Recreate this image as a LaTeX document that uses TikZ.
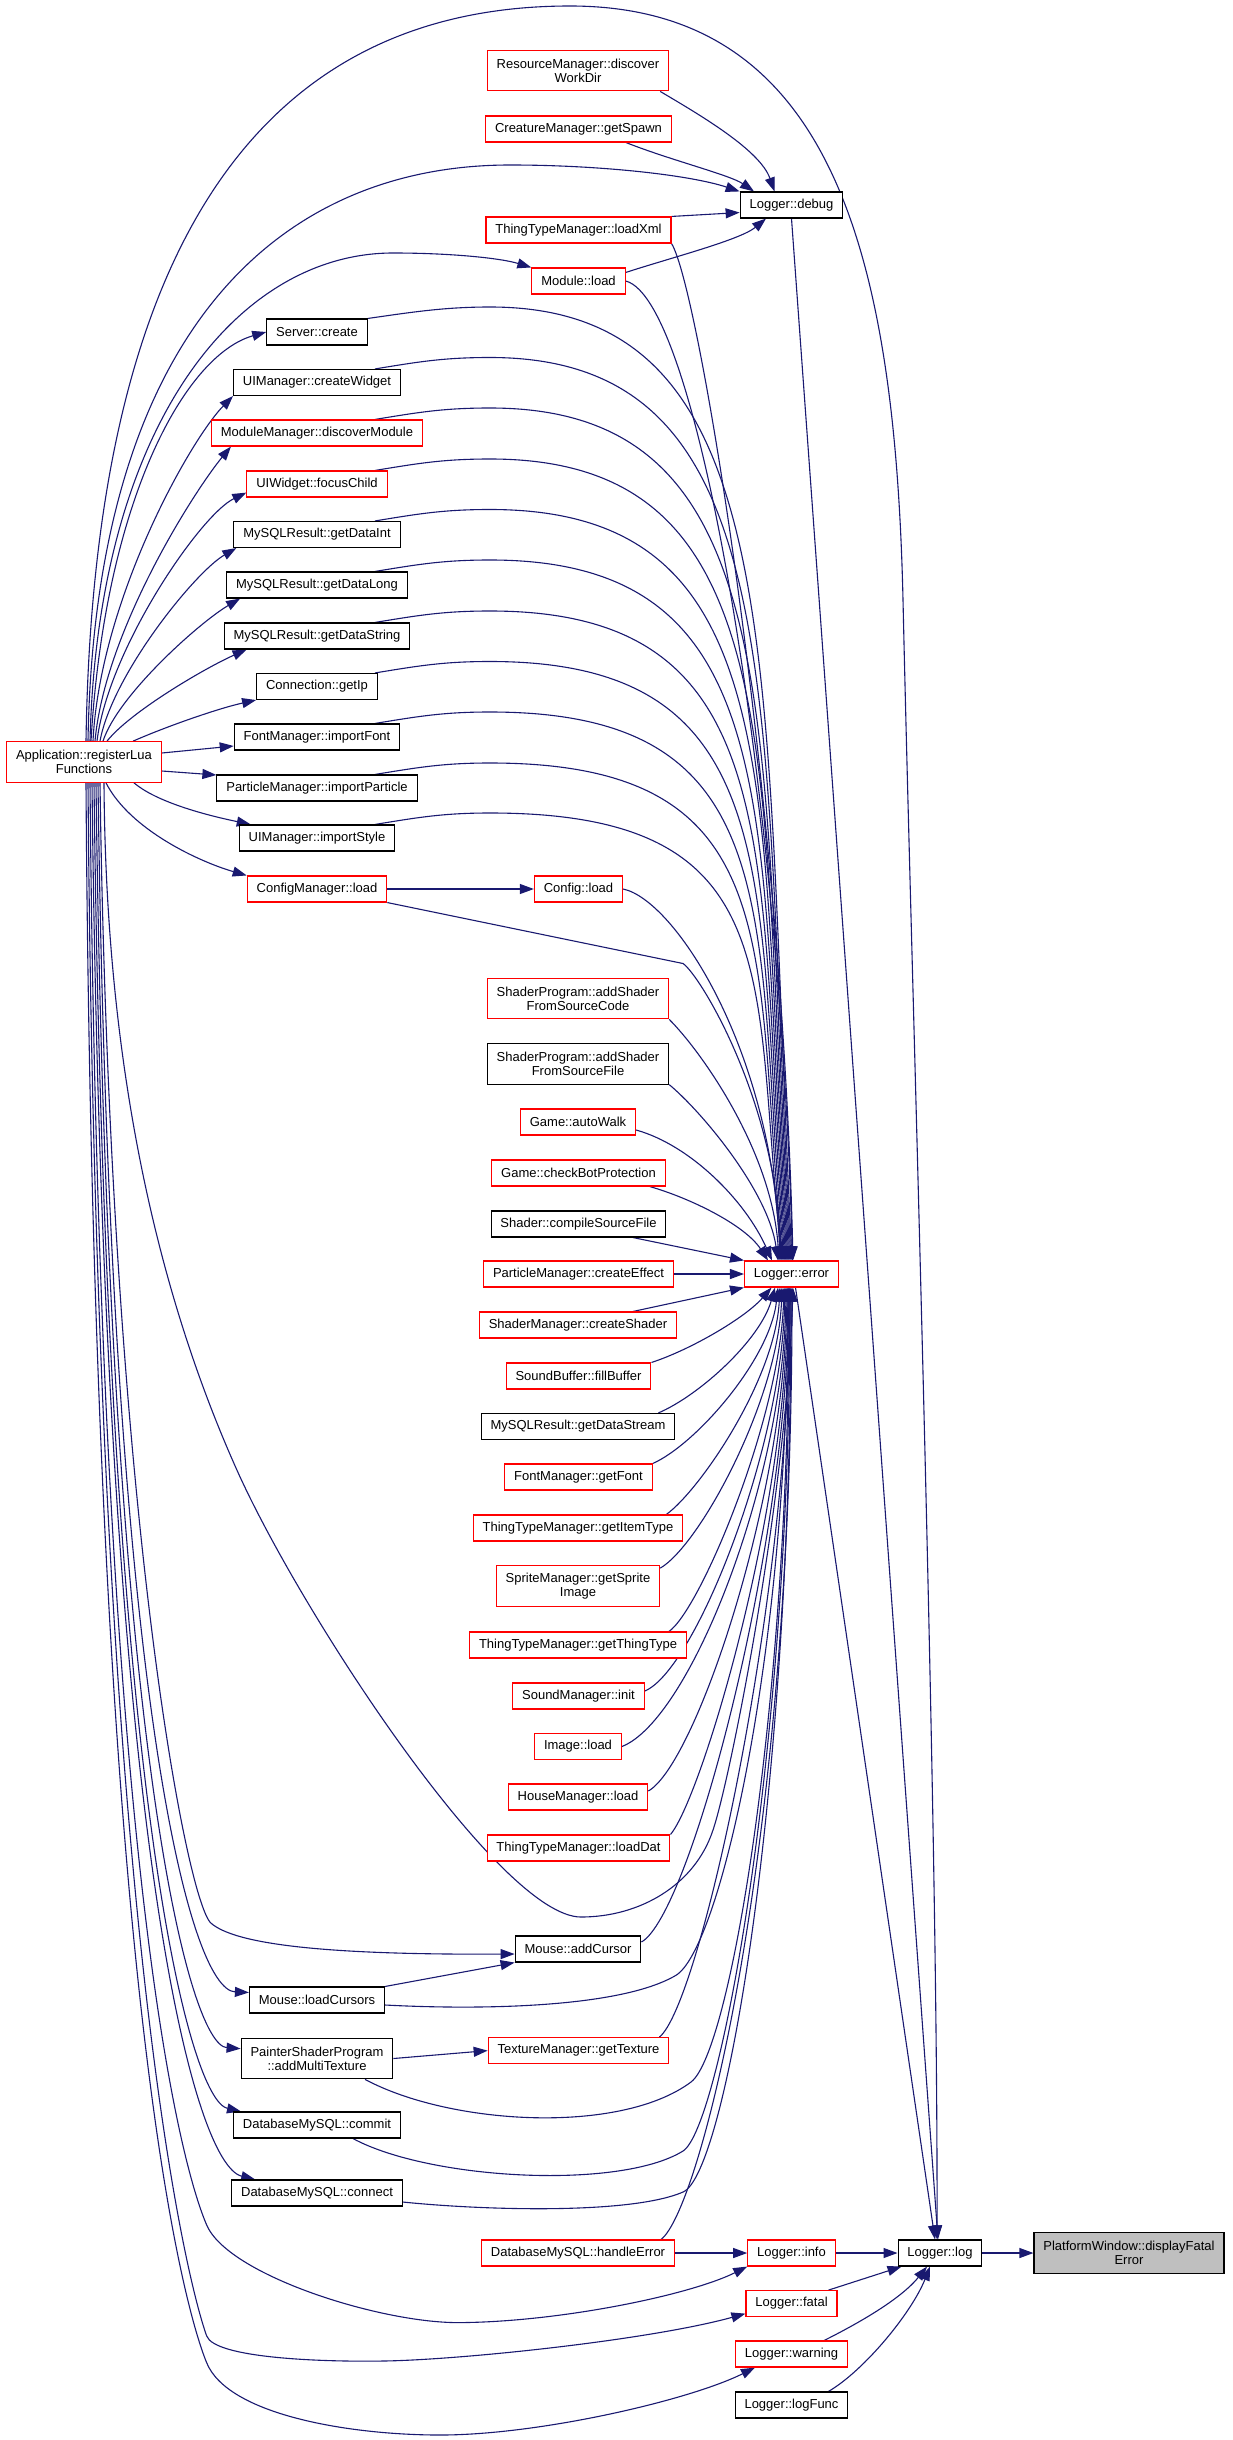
\documentclass[tikz,border=0pt]{standalone}
\usepackage{fontspec}
\setmainfont{Liberation Sans}
\usetikzlibrary{arrows.meta}
\definecolor{edgeblue}{RGB}{25,25,112}
\definecolor{boxred}{RGB}{255,0,0}
\definecolor{rootgray}{RGB}{191,191,191}
\pgfdeclarelayer{bg}
\pgfsetlayers{bg,main}
\tikzset{
  box/.style={draw=black, line width=0.55pt, fill=white, font=\fontsize{6.5pt}{7pt}\selectfont, align=center, inner xsep=4.7pt, inner ysep=0pt, minimum height=13pt},
  rbox/.style={box, draw=boxred},
  dbl/.style={minimum height=20.3pt},
  root/.style={box, fill=rootgray},
  e/.style={draw=edgeblue, line width=0.55pt, -{Triangle[length=7pt,width=5pt]}},
}
\begin{document}
\begin{tikzpicture}[x=0.5pt,y=-0.5pt]
\useasboundingbox (0,0) rectangle (1232,2440);
\coordinate (c375) at (375,0);
\coordinate (c633) at (633,0);
% ---------- nodes ----------
\node[rbox,dbl] (rm) at (578,70.6) {ResourceManager::discover\\WorkDir};
\node[rbox] (cms) at (578.5,129) {CreatureManager::getSpawn};
\node[box] (dbg) at (791.5,205) {Logger::debug};
\node[rbox] (lxml) at (578.5,230) {ThingTypeManager::loadXml};
\node[rbox] (mod) at (578.5,281) {Module::load};
\node[box] (srv) at (317,332) {Server::create};
\node[box] (cw) at (317,382.5) {UIManager::createWidget};
\node[rbox] (dm) at (317,433) {ModuleManager::discoverModule};
\node[rbox] (fc) at (317,484) {UIWidget::focusChild};
\node[box] (gdi) at (317,534.5) {MySQLResult::getDataInt};
\node[box] (gdl) at (317,585) {MySQLResult::getDataLong};
\node[box] (gds) at (317,636) {MySQLResult::getDataString};
\node[box] (gip) at (317,686.5) {Connection::getIp};
\node[box] (imf) at (317,737) {FontManager::importFont};
\node[rbox,dbl] (app) at (84,762) {Application::registerLua\\Functions};
\node[box] (imp) at (317,788) {ParticleManager::importParticle};
\node[box] (ims) at (317,838) {UIManager::importStyle};
\node[rbox] (cml) at (317,889) {ConfigManager::load};
\node[rbox] (cfl) at (578.5,889) {Config::load};
\node[rbox,dbl] (sfc) at (578,998.6) {ShaderProgram::addShader\\FromSourceCode};
\node[box,dbl] (sff) at (578,1063.8) {ShaderProgram::addShader\\FromSourceFile};
\node[rbox] (gaw) at (578,1122) {Game::autoWalk};
\node[rbox] (gcb) at (578.5,1173) {Game::checkBotProtection};
\node[box] (csf) at (578.5,1224) {Shader::compileSourceFile};
\node[rbox] (pce) at (578.5,1274) {ParticleManager::createEffect};
\node[rbox] (err) at (791.5,1274) {Logger::error};
\node[rbox] (scs) at (578,1325) {ShaderManager::createShader};
\node[rbox] (sfb) at (578.5,1376) {SoundBuffer::fillBuffer};
\node[box] (gds2) at (578,1426.5) {MySQLResult::getDataStream};
\node[rbox] (gf) at (578.5,1477) {FontManager::getFont};
\node[rbox] (git) at (578,1528) {ThingTypeManager::getItemType};
\node[rbox,dbl] (gsi) at (578,1586) {SpriteManager::getSprite\\Image};
\node[rbox] (gtt) at (578,1645) {ThingTypeManager::getThingType};
\node[rbox] (smi) at (578.5,1696) {SoundManager::init};
\node[rbox] (iml) at (578,1746.5) {Image::load};
\node[rbox] (hml) at (578,1797) {HouseManager::load};
\node[rbox] (ldat) at (578.5,1848) {ThingTypeManager::loadDat};
\node[box] (mac) at (578,1949) {Mouse::addCursor};
\node[box] (mlc) at (317,2000) {Mouse::loadCursors};
\node[box,dbl] (pam) at (317,2058.5) {PainterShaderProgram\\::addMultiTexture};
\node[rbox] (tgt) at (578.5,2050.6) {TextureManager::getTexture};
\node[box] (dbc) at (317,2125) {DatabaseMySQL::commit};
\node[box] (dbn) at (317,2193) {DatabaseMySQL::connect};
\node[rbox] (dbh) at (578,2253) {DatabaseMySQL::handleError};
\node[rbox] (inf) at (791.5,2253) {Logger::info};
\node[box] (lg) at (940,2253) {Logger::log};
\node[root,dbl] (pw) at (1129,2253) {PlatformWindow::displayFatal\\Error};
\node[rbox] (ftl) at (791.5,2303.6) {Logger::fatal};
\node[rbox] (wrn) at (791.5,2354) {Logger::warning};
\node[box] (lf) at (791.5,2405) {Logger::logFunc};
% ---------- edges ----------
\begin{pgfonlayer}{bg}
\fill[white] (0,0) rectangle (1232,2440);
% into Logger::log and PlatformWindow
\draw[e] (lg.east) -- (pw.west);
\draw[e] (inf.east) -- (lg.west);
\draw[e] (dbh.east) -- (inf.west);
\draw[e] ([xshift=-4.5pt]ftl.north east) -- ([xshift=2pt]lg.south west);
\draw[e] ([xshift=-12pt]wrn.north east) .. controls (855,2325) and (900,2300) .. ([xshift=-6.5pt]lg.south);
\draw[e] ([xshift=-10pt]lf.north east) .. controls (865,2370) and (912,2312) .. ([xshift=-5pt]lg.south);
\draw[e] (dbg.south) -- ([xshift=-1pt]lg.north);
\draw[e] ([xshift=2pt]err.south) -- ([xshift=-2.5pt]lg.north);
\draw[e] ([xshift=1pt]app.north) .. controls (95,150) and (330,6) .. (570,6) .. controls (830,6) and (895,250) .. (903,600) .. controls (912,1000) and (938,1800) .. ([xshift=-1.5pt]lg.north);
% into Logger::debug
\draw[e] ([xshift=2pt]app.north) .. controls (95,330) and (280,165) .. (510,165) .. controls (600,165) and (690,175) .. (dbg.north west);
\draw[e] ([xshift=-4.5pt]rm.south east) .. controls (700,115) and (760,150) .. ([xshift=-8.5pt]dbg.north);
\draw[e] ([xshift=23.75pt]cms.south) .. controls (670,160) and (730,175) .. ([xshift=-18.75pt]dbg.north);
\draw[e] (lxml.north east) -- ([yshift=3pt]dbg.south west);
\draw[e] ([yshift=4.25pt]mod.east) .. controls (670,258) and (740,240) .. ([xshift=-12.75pt]dbg.south);
% from Application to second column
\draw[e] ([xshift=3pt]app.north) .. controls (98,420) and (240,253) .. (393,253) .. controls (450,253) and (500,258) .. (mod.north west);
\draw[e] ([xshift=3.5pt]app.north) .. controls (105,500) and (185,355) .. (srv.west);
\draw[e] ([xshift=4.5pt]app.north) .. controls (100,600) and (190,440) .. (cw.south west);
\draw[e] ([xshift=5.5pt]app.north) .. controls (105,630) and (195,490) .. ([xshift=10pt]dm.south west);
\draw[e] ([xshift=6.5pt]app.north) .. controls (108,650) and (200,515) .. ([yshift=-4.3pt]fc.west);
\draw[e] ([xshift=8pt]app.north) .. controls (112,675) and (195,572) .. ([xshift=1.5pt]gdi.south west);
\draw[e] ([xshift=9.5pt]app.north) .. controls (118,695) and (200,622) .. ([xshift=7pt]gdl.south west);
\draw[e] ([xshift=11.5pt]app.north) .. controls (130,712) and (205,668) .. ([xshift=11.5pt]gds.south west);
\draw[e] ([xshift=24.5pt]app.north) .. controls (170,725) and (220,708) .. (gip.south west);
\draw[e] ([yshift=4.5pt]app.east) -- ([yshift=-4.5pt]imf.west);
\draw[e] ([yshift=-4.5pt]app.east) -- ([yshift=6.5pt]imp.west);
\draw[e] ([xshift=25pt]app.south) .. controls (160,805) and (220,818) .. ([xshift=6pt]ims.north west);
\draw[e] ([xshift=11pt]app.south) .. controls (130,830) and (200,862) .. (cml.north west);
\draw[e] (cml.east) -- (cfl.west);
% from Application downwards
\draw[e] ([xshift=8pt]app.south) .. controls (110,1500) and (185,1895) .. (210.5,1922.7) .. controls (235,1945) and (330,1955) .. ([yshift=-2.5pt]mac.west);
\draw[e] ([xshift=7pt]app.south) .. controls (110,1700) and (190,1990) .. ([yshift=-3pt]mlc.north west);
\draw[e] ([xshift=6pt]app.south) .. controls (108,1760) and (190,2045) .. ([yshift=-5.5pt]pam.north west);
\draw[e] ([xshift=5pt]app.south) .. controls (106,1810) and (190,2100) .. ([xshift=4pt]dbc.north west);
\draw[e] ([xshift=4pt]app.south) .. controls (104,1860) and (195,2165) .. ([xshift=12pt]dbn.north west);
\draw[e] ([xshift=3pt]app.south) .. controls (100,1900) and (185,2175) .. (206.7,2225) .. controls (228,2275) and (380,2323) .. (459,2322.6) .. controls (560,2322) and (690,2295) .. (inf.south west);
\draw[e] ([xshift=2pt]app.south) .. controls (97,1950) and (190,2290) .. (206.7,2336) .. controls (215,2358) and (320,2362) .. (382.7,2361) .. controls (460,2360) and (650,2340) .. ([yshift=-5pt]ftl.west);
\draw[e] ([xshift=1pt]app.south) .. controls (94,2000) and (185,2310) .. (206.7,2362.8) .. controls (228,2415) and (350,2435) .. (440,2435) .. controls (540,2435) and (690,2400) .. ([xshift=10pt]wrn.south west);
\draw[e] ([xshift=10pt]app.south) .. controls (106,1100) and (170,1320) .. (236,1468) .. controls (300,1612) and (500,1917) .. (581,1917) .. controls (640,1917) and (695,1885) .. (713,1830) .. controls (730,1780) and (786,1500) .. ([xshift=0.75pt]err.south);
\draw[e] (mlc.north east) -- (mac.south west);
\draw[e] (pam.east) -- (tgt.west);
% second column into Logger::error (from above)
\draw[e] (srv.north east) .. controls (413,312) and (445,307) .. (490,307) .. controls (790,307) and (762,660) .. ([xshift=0.25pt]err.north);
\draw[e] (cw.north -| c375) .. controls (420,361.5) and (445,357.5) .. (490,357.5) .. controls (790,357.5) and (761,691.8) .. ([xshift=-0.25pt]err.north);
\draw[e] (dm.north -| c375) .. controls (420,412) and (445,408) .. (490,408) .. controls (790,408) and (760,723.6) .. ([xshift=-0.75pt]err.north);
\draw[e] (fc.north -| c375) .. controls (420,463) and (445,459) .. (490,459) .. controls (790,459) and (759,755.7) .. ([xshift=-1.25pt]err.north);
\draw[e] (gdi.north -| c375) .. controls (420,513.5) and (445,509.5) .. (490,509.5) .. controls (790,509.5) and (758,787.6) .. ([xshift=-1.75pt]err.north);
\draw[e] (gdl.north -| c375) .. controls (420,564) and (445,560) .. (490,560) .. controls (790,560) and (757,819.4) .. ([xshift=-2.25pt]err.north);
\draw[e] (gds.north -| c375) .. controls (420,615) and (445,611) .. (490,611) .. controls (790,611) and (756,851.5) .. ([xshift=-2.75pt]err.north);
\draw[e] (gip.north -| c375) .. controls (420,665.5) and (445,661.5) .. (490,661.5) .. controls (790,661.5) and (755,883.3) .. ([xshift=-3.25pt]err.north);
\draw[e] (imf.north -| c375) .. controls (420,716) and (445,712) .. (490,712) .. controls (790,712) and (754,915.1) .. ([xshift=-3.75pt]err.north);
\draw[e] (imp.north -| c375) .. controls (420,767) and (445,763) .. (490,763) .. controls (790,763) and (753,947.3) .. ([xshift=-4.25pt]err.north);
\draw[e] (ims.north -| c375) .. controls (420,817) and (445,813) .. (490,813) .. controls (790,813) and (752,978.8) .. ([xshift=-4.75pt]err.north);
\draw[e] (cml.south east) -- (683,963.5) .. controls (700,975) and (776,1100) .. ([xshift=-5.25pt]err.north);
% third column into Logger::error (from above)
\draw[e] (lxml.south east) .. controls (700,290) and (782,800) .. ([xshift=0.75pt]err.north);
\draw[e] (mod.east) .. controls (700,300) and (780,800) .. ([xshift=0.5pt]err.north);
\draw[e] (cfl.east) .. controls (675,900) and (772,1050) .. ([xshift=-5.75pt]err.north);
\draw[e] (sfc.south east) .. controls (700,1050) and (772,1150) .. ([xshift=-6.25pt]err.north);
\draw[e] (sff.south east) .. controls (700,1110) and (768,1190) .. ([xshift=-6.75pt]err.north);
\draw[e] ([yshift=-4pt]gaw.east) .. controls (690,1145) and (745,1200) .. ([xshift=-9.75pt]err.north);
\draw[e] ([xshift=-8pt]gcb.south east) .. controls (690,1198) and (745,1225) .. ([xshift=-11.75pt]err.north);
\draw[e] (csf.south -| c633) -- (err.north west);
\draw[e] (pce.east) -- (err.west);
\draw[e] (scs.north -| c633) -- (err.south west);
% into Logger::error (from below)
\draw[e] (sfb.north east) .. controls (690,1350) and (745,1318) .. ([xshift=-10pt]err.south);
\draw[e] ([xshift=-8.5pt]gds2.north east) .. controls (700,1395) and (760,1340) .. ([xshift=-8.25pt]err.south);
\draw[e] (gf.north east) .. controls (695,1445) and (770,1360) .. ([xshift=-6.75pt]err.south);
\draw[e] ([xshift=-8.5pt]git.north east) .. controls (700,1490) and (775,1380) .. ([xshift=-5.75pt]err.south);
\draw[e] ([yshift=-1.5pt]gsi.north east) .. controls (700,1545) and (778,1400) .. ([xshift=-4.75pt]err.south);
\draw[e] ([xshift=-9pt]gtt.north east) .. controls (700,1610) and (780,1420) .. ([xshift=-3.75pt]err.south);
\draw[e] ([yshift=2.5pt]smi.east) .. controls (695,1670) and (782,1450) .. ([xshift=-3.25pt]err.south);
\draw[e] (iml.east) .. controls (690,1720) and (784,1480) .. ([xshift=-2.75pt]err.south);
\draw[e] ([yshift=3pt]hml.east) .. controls (695,1765) and (785,1500) .. ([xshift=-2.25pt]err.south);
\draw[e] (ldat.north east) .. controls (700,1800) and (786,1520) .. ([xshift=-1.75pt]err.south);
\draw[e] ([yshift=3.5pt]mac.east) .. controls (690,1915) and (787,1550) .. ([xshift=-1.25pt]err.south);
\draw[e] ([xshift=-5pt]tgt.north east) .. controls (700,2005) and (789,1600) .. ([xshift=-0.75pt]err.south);
\draw[e] ([yshift=-2.5pt]mlc.east) .. controls (480,2010) and (620,2008) .. (675.6,1975.5) .. controls (720,1950) and (788,1650) .. ([xshift=-1.75pt]err.south);
\draw[e] ([xshift=24pt]pam.south) .. controls (450,2125) and (620,2135) .. (691,2082) .. controls (731,2052) and (789,1700) .. ([xshift=-1.25pt]err.south);
\draw[e] ([xshift=18pt]dbc.south) .. controls (430,2180) and (620,2190) .. (683,2151) .. controls (720,2128) and (790,1750) .. ([xshift=-0.75pt]err.south);
\draw[e] ([yshift=-4.5pt]dbn.east) .. controls (480,2210) and (630,2215) .. (683,2192) .. controls (725,2175) and (791,1800) .. ([xshift=-0.25pt]err.south);
\draw[e] ([xshift=-7pt]dbh.north east) .. controls (700,2210) and (792,1850) .. ([xshift=0.25pt]err.south);
\end{pgfonlayer}
\end{tikzpicture}
\end{document}
